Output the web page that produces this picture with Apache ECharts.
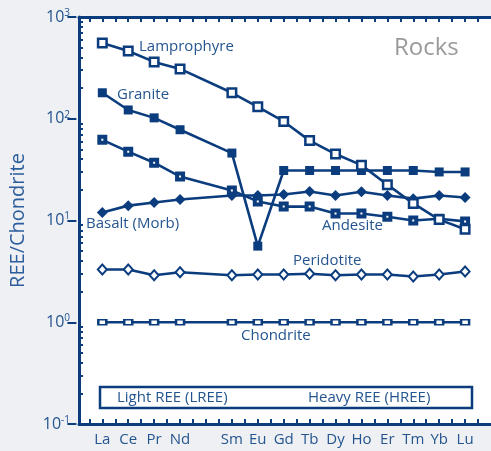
<!DOCTYPE html>
<html>
<head>
<meta charset="utf-8">
<script src="https://cdn.jsdelivr.net/npm/echarts@6/dist/echarts.min.js"></script>
<style>
html,body{margin:0;padding:0;background:#eef0f3;}
#chart{width:491px;height:451px;}
</style>
</head>
<body>
<div id="chart"></div>
<script>
const categories = ['La','Ce','Pr','Nd','Pm','Sm','Eu','Gd','Tb','Dy','Ho','Er','Tm','Yb','Lu'];
const shownLabels = ['La','Ce','Pr','Nd','','Sm','Eu','Gd','Tb','Dy','Ho','Er','Tm','Yb','Lu'];
const lamprophyre = [556,464,362,309,null,180,131,94,61,45,35,22.5,14.7,10.2,8.2];
const granite     = [180,122,102,78,null,46,5.6,31,31,31,31,31,31,30,30];
const andesite    = [62,47.5,37,27,null,19.7,15.4,13.7,13.7,11.7,11.7,10.9,10,10.4,9.8];
const basalt      = [12.0,14.0,15.0,16.1,null,17.6,17.6,18.0,19.3,17.6,19.2,17.6,16.4,17.6,16.8];
const peridotite  = [3.3,3.3,2.9,3.1,null,2.9,2.95,2.95,3.0,2.9,2.95,2.95,2.82,2.95,3.15];
const chondrite   = [1,1,1,1,null,1,1,1,1,1,1,1,1,1,1];
const yDecades = [0.1,1,10,100,1000];

const navy = '#0b3d7e';
const txt = '#25558f';
const font = 'Open Sans';

function pts(arr){ return arr.map((v,i)=>[i+1, v]).filter(p=>p[1]!==null); }
const majorX = categories.map((c,i)=>i+1);
const labelX = majorX.filter(v=>shownLabels[v-1]!=='');
const allX = [0.5];
majorX.forEach(v=>{ allX.push(v); allX.push(v+0.5); });
const minorY = [];
[0.1,1,10,100].forEach(d=>{ for(let k=2;k<=9;k++) minorY.push(+(d*k).toPrecision(3)); });

const gridW = 423.6;
const chart = echarts.init(document.getElementById('chart'));
const xBase = {type:'value', min:0.1, max:16, splitLine:{show:false}, axisLabel:{show:false}};
const yBase = {type:'log', logBase:10, min:0.1, max:1000, splitLine:{show:false}};
const axLine = {show:true, onZero:false, lineStyle:{color:navy, width:3}};

function line(name, data, symbol, size, filled, bw){
  return {
    name, type:'line', data:pts(data), xAxisIndex:0, yAxisIndex:0,
    symbol, symbolSize:size, showSymbol:true,
    lineStyle:{color:navy, width:2.6},
    itemStyle:{color: filled?navy:'#ffffff', borderColor:navy, borderWidth:bw, opacity:1},
    emphasis:{disabled:true}, z:3
  };
}

chart.setOption({
  animation:false,
  backgroundColor:'#eef0f3',
  grid:{left:74, top:17, width:gridW, height:407, show:true, backgroundColor:'#ffffff', borderWidth:0},
  xAxis:[
    Object.assign({}, xBase, {position:'bottom',
      axisLine:axLine,
      axisTick:{show:true, inside:true, length:5, customValues:allX, lineStyle:{color:navy, width:2}},
      axisLabel:{show:true, customValues:labelX, formatter:v=>shownLabels[Math.round(v)-1], color:txt, fontSize:15, fontFamily:font, margin:8}}),
    Object.assign({}, xBase, {position:'top',
      axisLine:axLine,
      axisTick:{show:true, inside:true, length:5, customValues:allX, lineStyle:{color:navy, width:2}}})
  ],
  yAxis:[
    Object.assign({}, yBase, {position:'left',
      name:'REE/Chondrite', nameLocation:'middle', nameGap:51, nameRotate:90,
      nameTextStyle:{color:'#2c5d9c', fontSize:20, fontFamily:font},
      axisLine:axLine,
      axisTick:{show:true, inside:true, length:4, customValues:minorY, lineStyle:{color:navy, width:2}},
      axisLabel:{show:true, margin:9, customValues:yDecades,
        formatter:v=>'{b|10}{s|'+Math.round(Math.log10(v))+'}',
        rich:{b:{fontSize:16, color:txt, fontFamily:font, lineHeight:18},
              s:{fontSize:10, color:txt, fontFamily:font, verticalAlign:'top', lineHeight:10}}}}),
    Object.assign({}, yBase, {position:'right', offset:-gridW,
      axisLine:{show:false, onZero:false},
      axisTick:{show:true, inside:false, length:9, customValues:yDecades, lineStyle:{color:navy, width:2}},
      axisLabel:{show:false}})
  ],
  series:[
    line('Chondrite', chondrite, 'rect', [8,5], false, 2),
    line('Peridotite', peridotite, 'diamond', [9,10], false, 2),
    line('Basalt (Morb)', basalt, 'diamond', [11,11], true, 0),
    line('Andesite', andesite, 'rect', 6, false, 4),
    line('Granite', granite, 'rect', 9, true, 0),
    line('Lamprophyre', lamprophyre, 'rect', 8.5, false, 2.5)
  ],
  graphic:[
    {type:'text', left:394, top:36, style:{text:'Rocks', fill:'#9a9a9a', font:'24px "Open Sans"'}, z:10},
    {type:'text', x:139, y:47, style:{text:'Lamprophyre', fill:txt, font:'15px "Open Sans"', verticalAlign:'middle'}, z:10},
    {type:'text', x:117, y:95, style:{text:'Granite', fill:txt, font:'15px "Open Sans"', verticalAlign:'middle'}, z:10},
    {type:'text', x:86, y:224, style:{text:'Basalt (Morb)', fill:txt, font:'15px "Open Sans"', verticalAlign:'middle'}, z:10},
    {type:'text', x:322, y:226, style:{text:'Andesite', fill:txt, font:'15px "Open Sans"', verticalAlign:'middle'}, z:10},
    {type:'text', x:293, y:261, style:{text:'Peridotite', fill:txt, font:'15px "Open Sans"', verticalAlign:'middle'}, z:10},
    {type:'text', x:241, y:336, style:{text:'Chondrite', fill:txt, font:'15px "Open Sans"', verticalAlign:'middle'}, z:10},
    {type:'rect', shape:{x:100, y:387, width:372, height:21}, style:{fill:'#ffffff', stroke:navy, lineWidth:2.5}, z:9},
    {type:'text', x:117, y:397.5, style:{text:'Light REE (LREE)', fill:txt, font:'15px "Open Sans"', verticalAlign:'middle'}, z:10},
    {type:'text', x:308, y:397.5, style:{text:'Heavy REE (HREE)', fill:txt, font:'15px "Open Sans"', verticalAlign:'middle'}, z:10}
  ]
});
</script>
</body>
</html>
